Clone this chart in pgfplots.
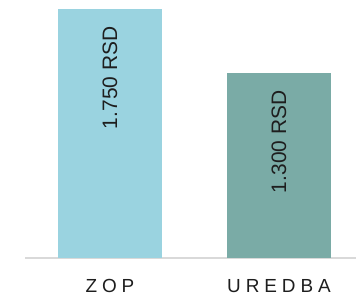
\documentclass[border=0pt]{standalone}
\usepackage{fontspec}
\setmainfont{Liberation Sans}
\usepackage{pgfplots}
\pgfplotsset{compat=1.18}
\definecolor{zopc}{RGB}{154,211,224}
\definecolor{urec}{RGB}{122,171,166}
\definecolor{linec}{RGB}{217,217,217}
\definecolor{txt}{RGB}{30,30,30}
\begin{document}
\begin{tikzpicture}
\begin{axis}[
 at={(25bp,38bp)}, anchor=south west,
 scale only axis, width=331bp, height=258bp,
 xmin=-0.503, xmax=1.456, ymin=0, ymax=1813,
 axis x line=bottom, axis y line=none,
 axis line style={-, draw=linec, line width=1.2bp},
 xtick={0,1}, xticklabels={ZOP,UREDBA},
 major tick length=0pt,
 xticklabel style={anchor=base, yshift=-34bp, font=\fontsize{19}{19}\selectfont\addfontfeature{LetterSpace=26}, text=txt},
 ybar, bar width=104bp,
 nodes near coords,
 point meta=explicit symbolic,
 every node near coord/.append style={yshift=-17.5bp, rotate=90, anchor=east, inner sep=0pt, font=\fontsize{21}{21}\selectfont, text=txt},
 clip=false,
]
\addplot[fill=zopc, draw=none, bar shift=0pt] coordinates {(0,1750) [1.750 RSD]};
\addplot[fill=urec, draw=none, bar shift=0pt] coordinates {(1,1300) [1.300 RSD]};
\end{axis}
\pgfresetboundingbox
\path[use as bounding box] (0,0) rectangle (356bp,296bp);
\end{tikzpicture}
\end{document}
